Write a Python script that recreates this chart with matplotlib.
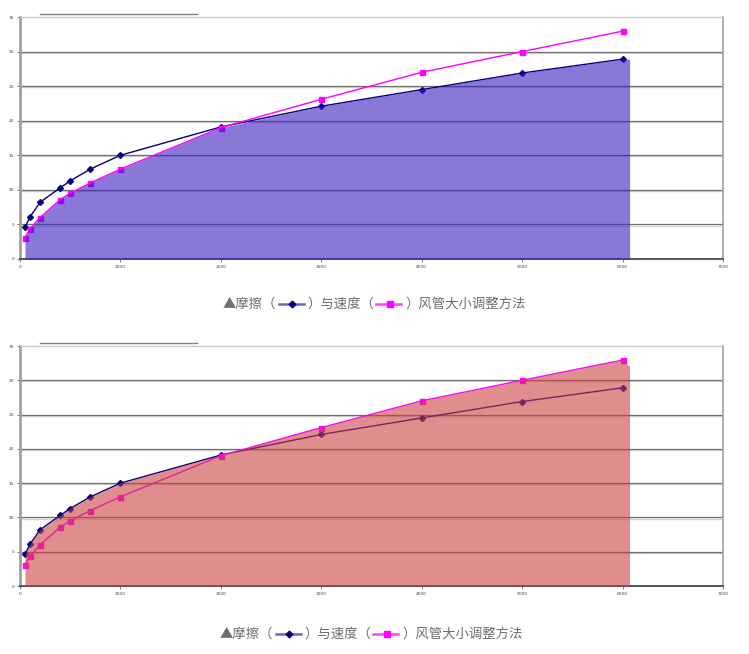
import matplotlib
matplotlib.use("Agg")
import matplotlib.pyplot as plt
from matplotlib.lines import Line2D
import numpy as np

plt.rcParams['font.family'] = ['Noto Sans CJK SC', 'DejaVu Sans']

# Air velocity / friction data
x_vals = [50, 100, 200, 400, 500, 700, 1000, 2000, 3000, 4000, 5000, 6000]
friction = [4.6, 6.1, 8.2, 10.3, 11.3, 13.0, 15.0, 19.1, 22.1, 24.5, 26.9, 28.9]
duct_size = [3.1, 4.4, 6.0, 8.6, 9.5, 11.0, 13.0, 19.0, 23.1, 27.0, 30.0, 32.95]
x_ticks = [0, 1000, 2000, 3000, 4000, 5000, 6000, 7000]
y_ticks = [0, 5, 10, 15, 20, 25, 30, 35]
area_end = 6070

legend_parts = ["▲摩擦（", "）与速度（", "）风管大小调整方法"]

W, H = 749, 654
fig = plt.figure(figsize=(W / 100, H / 100), dpi=100)

NAVY = "#000080"
MAGENTA = "#ff00ff"


def make_panel(top_px, bottom_px, fill_color, mode):
    ax = fig.add_axes([20 / W, 1 - bottom_px / H, 703 / W, (bottom_px - top_px) / H])
    ax.set_xlim(0, 7000)
    ax.set_ylim(0, 35)
    ax.set_xticks(x_ticks)
    ax.set_yticks(y_ticks)
    ax.set_xticklabels([str(v) for v in x_ticks], fontsize=3.2, color="#444",
                       family="DejaVu Sans")
    ax.set_yticklabels([str(v) for v in y_ticks], fontsize=3.2, color="#444",
                       family="DejaVu Sans")
    ax.tick_params(length=2, width=0.6, color="#666", pad=2)

    for s in ("left", "right", "top"):
        ax.spines[s].set_color("#a0a0a0")
    ax.spines["left"].set_linewidth(2.0)
    ax.spines["right"].set_linewidth(1.2)
    ax.spines["top"].set_linewidth(1.0)
    ax.spines["top"].set_color("#c8c8c8")
    ax.spines["bottom"].set_color("#555")
    ax.spines["bottom"].set_linewidth(1.4)

    # gridlines with a light shadow underneath
    for yv in y_ticks[1:-1]:
        ax.axhline(yv, color="#6e6e6e", lw=0.9, zorder=1)
        ax.axhline(yv - 0.16, color="#d6d6d6", lw=1.0, zorder=0.9)

    ax.plot(x_vals, friction, color=NAVY, lw=1.0, marker="D", ms=3.0,
            mfc=NAVY, mec=NAVY, zorder=3)
    ax.plot(x_vals, duct_size, color=MAGENTA, lw=1.0, marker="s", ms=3.6,
            mfc=MAGENTA, mec=MAGENTA, zorder=3)

    f = np.array(friction)
    d = np.array(duct_size)
    top = np.minimum(f, d) if mode == "min" else np.maximum(f, d)
    fx = list(x_vals) + [area_end]
    fy = list(top) + [top[-1] - (0.0 if mode == "min" else 0.9)]
    ax.fill_between(fx, 0, fy, color=fill_color, alpha=0.6, lw=0, zorder=4)
    return ax


make_panel(17, 259, "#3c1ec1", "min")
make_panel(346, 586, "#cb4141", "max")

# short rule above each panel
for y_px in (14, 343):
    fig.add_artist(Line2D([40 / W, 197 / W], [1 - y_px / H, 1 - y_px / H],
                          color="#808080", lw=1.0))

fig.canvas.draw()
renderer = fig.canvas.get_renderer()


def legend_line(x0_px, y_px):
    x = x0_px
    fs = 9.6
    sym_w = 27
    markers = [(NAVY, "#6a6ab4", "D", 3.4), (MAGENTA, "#ff44ff", "s", 3.8)]
    for i, part in enumerate(legend_parts):
        t = fig.text(x / W, 1 - y_px / H, part, fontsize=fs, color="#6e6e6e",
                     va="center", ha="left")
        bb = t.get_window_extent(renderer)
        x += bb.width
        if i < len(markers):
            mc, lc, mk, ms = markers[i]
            y_f = 1 - y_px / H
            fig.add_artist(Line2D([(x + 2) / W, (x + sym_w) / W], [y_f, y_f],
                                  color=lc, lw=1.8))
            fig.add_artist(Line2D([(x + 2 + sym_w / 2) / W], [y_f], color=mc,
                                  marker=mk, ms=ms, lw=0))
            x += sym_w + 4


legend_line(223, 304)
legend_line(220, 634)

fig.savefig("out.png", dpi=100)
